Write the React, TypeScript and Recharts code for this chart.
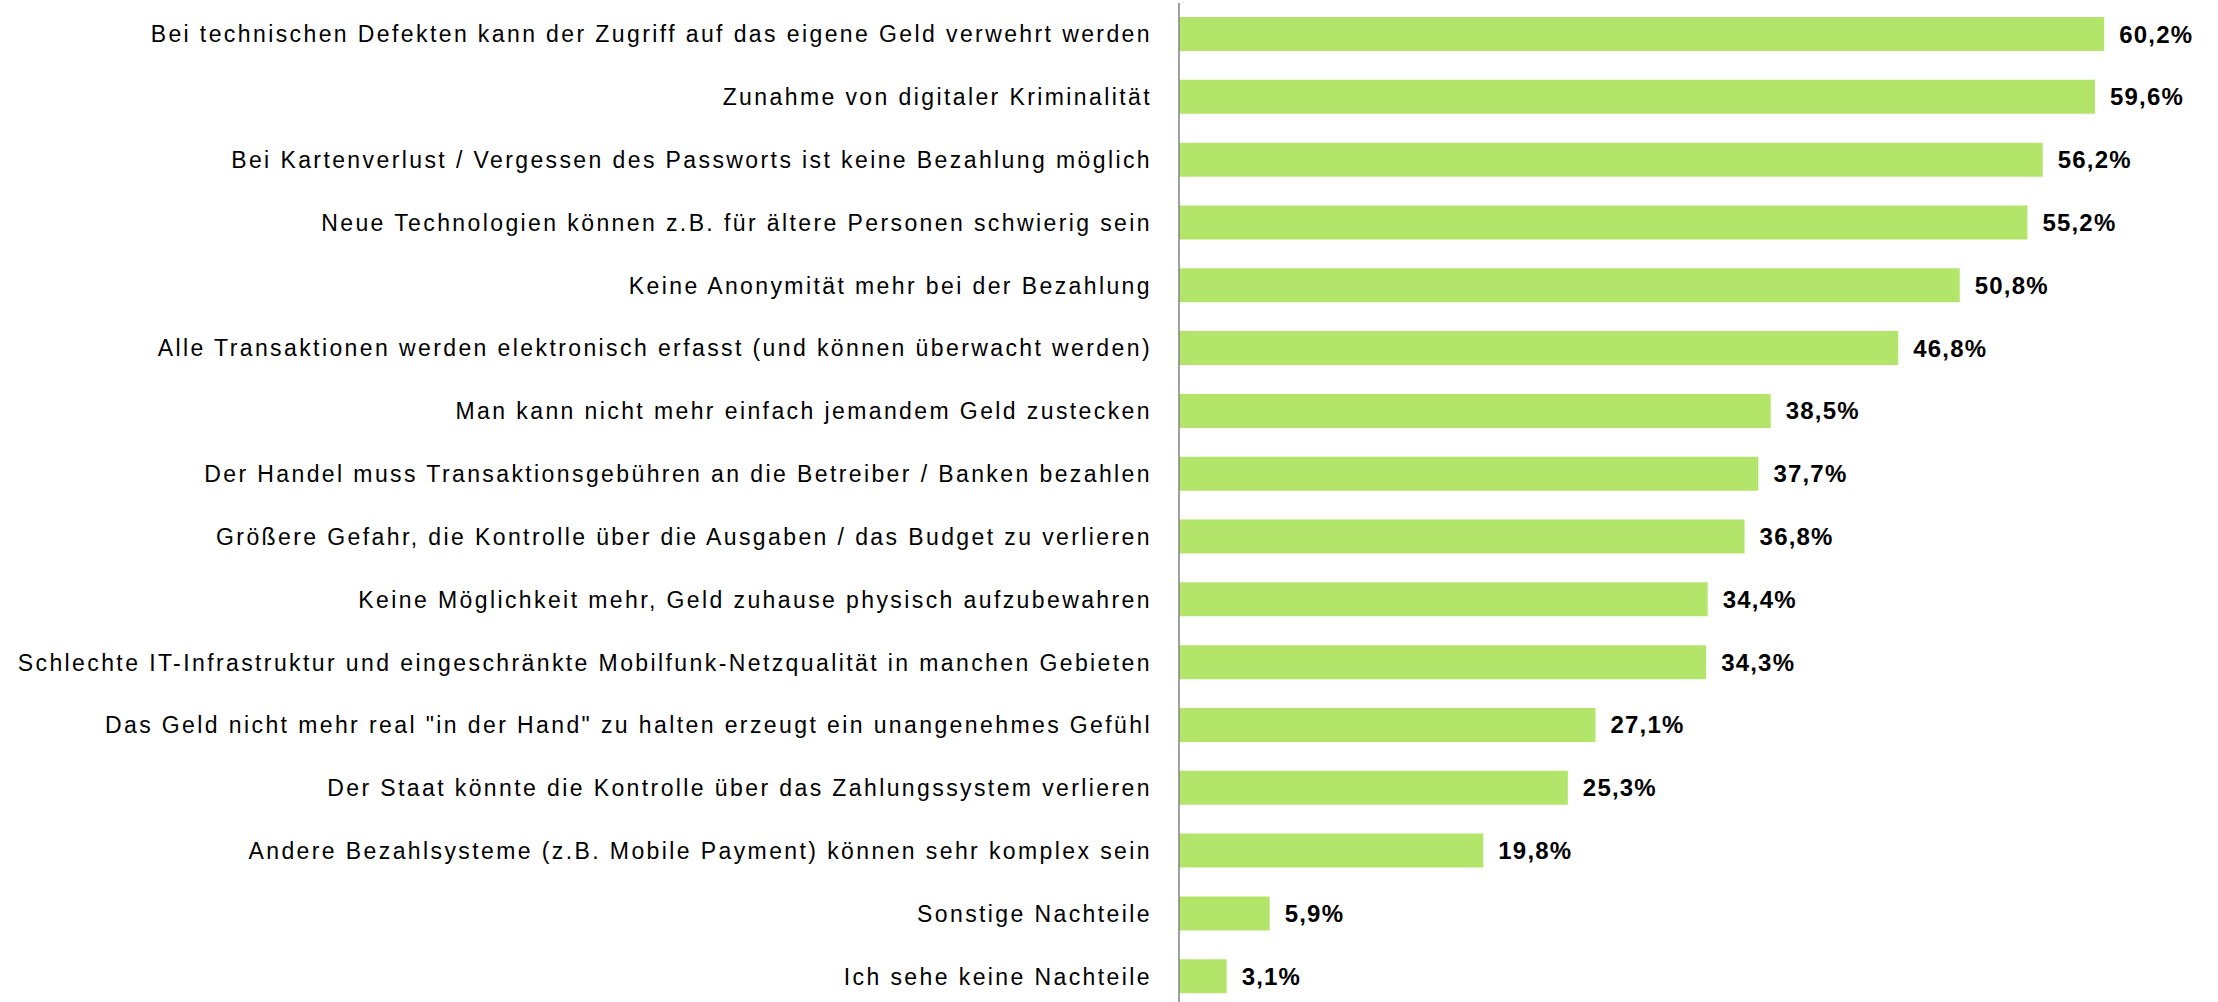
import React from 'react';
import { Bar, BarChart, LabelList, XAxis, YAxis } from 'recharts';

const categories = [
  'Bei technischen Defekten kann der Zugriff auf das eigene Geld verwehrt werden',
  'Zunahme von digitaler Kriminalität',
  'Bei Kartenverlust / Vergessen des Passworts ist keine Bezahlung möglich',
  'Neue Technologien können z.B. für ältere Personen schwierig sein',
  'Keine Anonymität mehr bei der Bezahlung',
  'Alle Transaktionen werden elektronisch erfasst (und können überwacht werden)',
  'Man kann nicht mehr einfach jemandem Geld zustecken',
  'Der Handel muss Transaktionsgebühren an die Betreiber / Banken bezahlen',
  'Größere Gefahr, die Kontrolle über die Ausgaben / das Budget zu verlieren',
  'Keine Möglichkeit mehr, Geld zuhause physisch aufzubewahren',
  'Schlechte IT-Infrastruktur und eingeschränkte Mobilfunk-Netzqualität in manchen Gebieten',
  'Das Geld nicht mehr real "in der Hand" zu halten erzeugt ein unangenehmes Gefühl',
  'Der Staat könnte die Kontrolle über das Zahlungssystem verlieren',
  'Andere Bezahlsysteme (z.B. Mobile Payment) können sehr komplex sein',
  'Sonstige Nachteile',
  'Ich sehe keine Nachteile',
];

const values = [60.2, 59.6, 56.2, 55.2, 50.8, 46.8, 38.5, 37.7, 36.8, 34.4, 34.3, 27.1, 25.3, 19.8, 5.9, 3.1];

const data = categories.map((name, i) => ({ name, value: values[i] }));

const FONT = '"Liberation Sans", Arial, sans-serif';

const CategoryTick = (props: any) => {
  const { x, y, payload } = props;
  return (
    <text
      x={x}
      y={y}
      dy={8}
      textAnchor="end"
      fontSize={23}
      letterSpacing={2.4}
      fill="#000"
      fontFamily={FONT}
    >
      {payload.value}
    </text>
  );
};

const fmt = (v: any) => `${String(v).replace('.', ',')}%`;

export default function App() {
  return (
    <div style={{ position: 'absolute', left: 0, top: 0, width: 2218, height: 1002, overflow: 'hidden', background: '#fff' }}>
      <BarChart
        width={2218}
        height={1010}
        data={data}
        layout="vertical"
        margin={{ top: 3, right: 40, left: 0, bottom: 2 }}
      >
        <XAxis type="number" domain={[0, 65]} hide />
        <YAxis
          type="category"
          dataKey="name"
          width={1179}
          tickLine={false}
          tickSize={0}
          tickMargin={27}
          axisLine={{ stroke: '#808080', strokeWidth: 1.5 }}
          tick={<CategoryTick />}
          interval={0}
        />
        <Bar dataKey="value" fill="#b3e56b" barSize={34} isAnimationActive={false}>
          <LabelList
            dataKey="value"
            position="right"
            offset={15}
            formatter={fmt}
            style={{ fontSize: 24, fontWeight: 'bold', letterSpacing: 1.2, fill: '#000', fontFamily: FONT }}
          />
        </Bar>
      </BarChart>
    </div>
  );
}
